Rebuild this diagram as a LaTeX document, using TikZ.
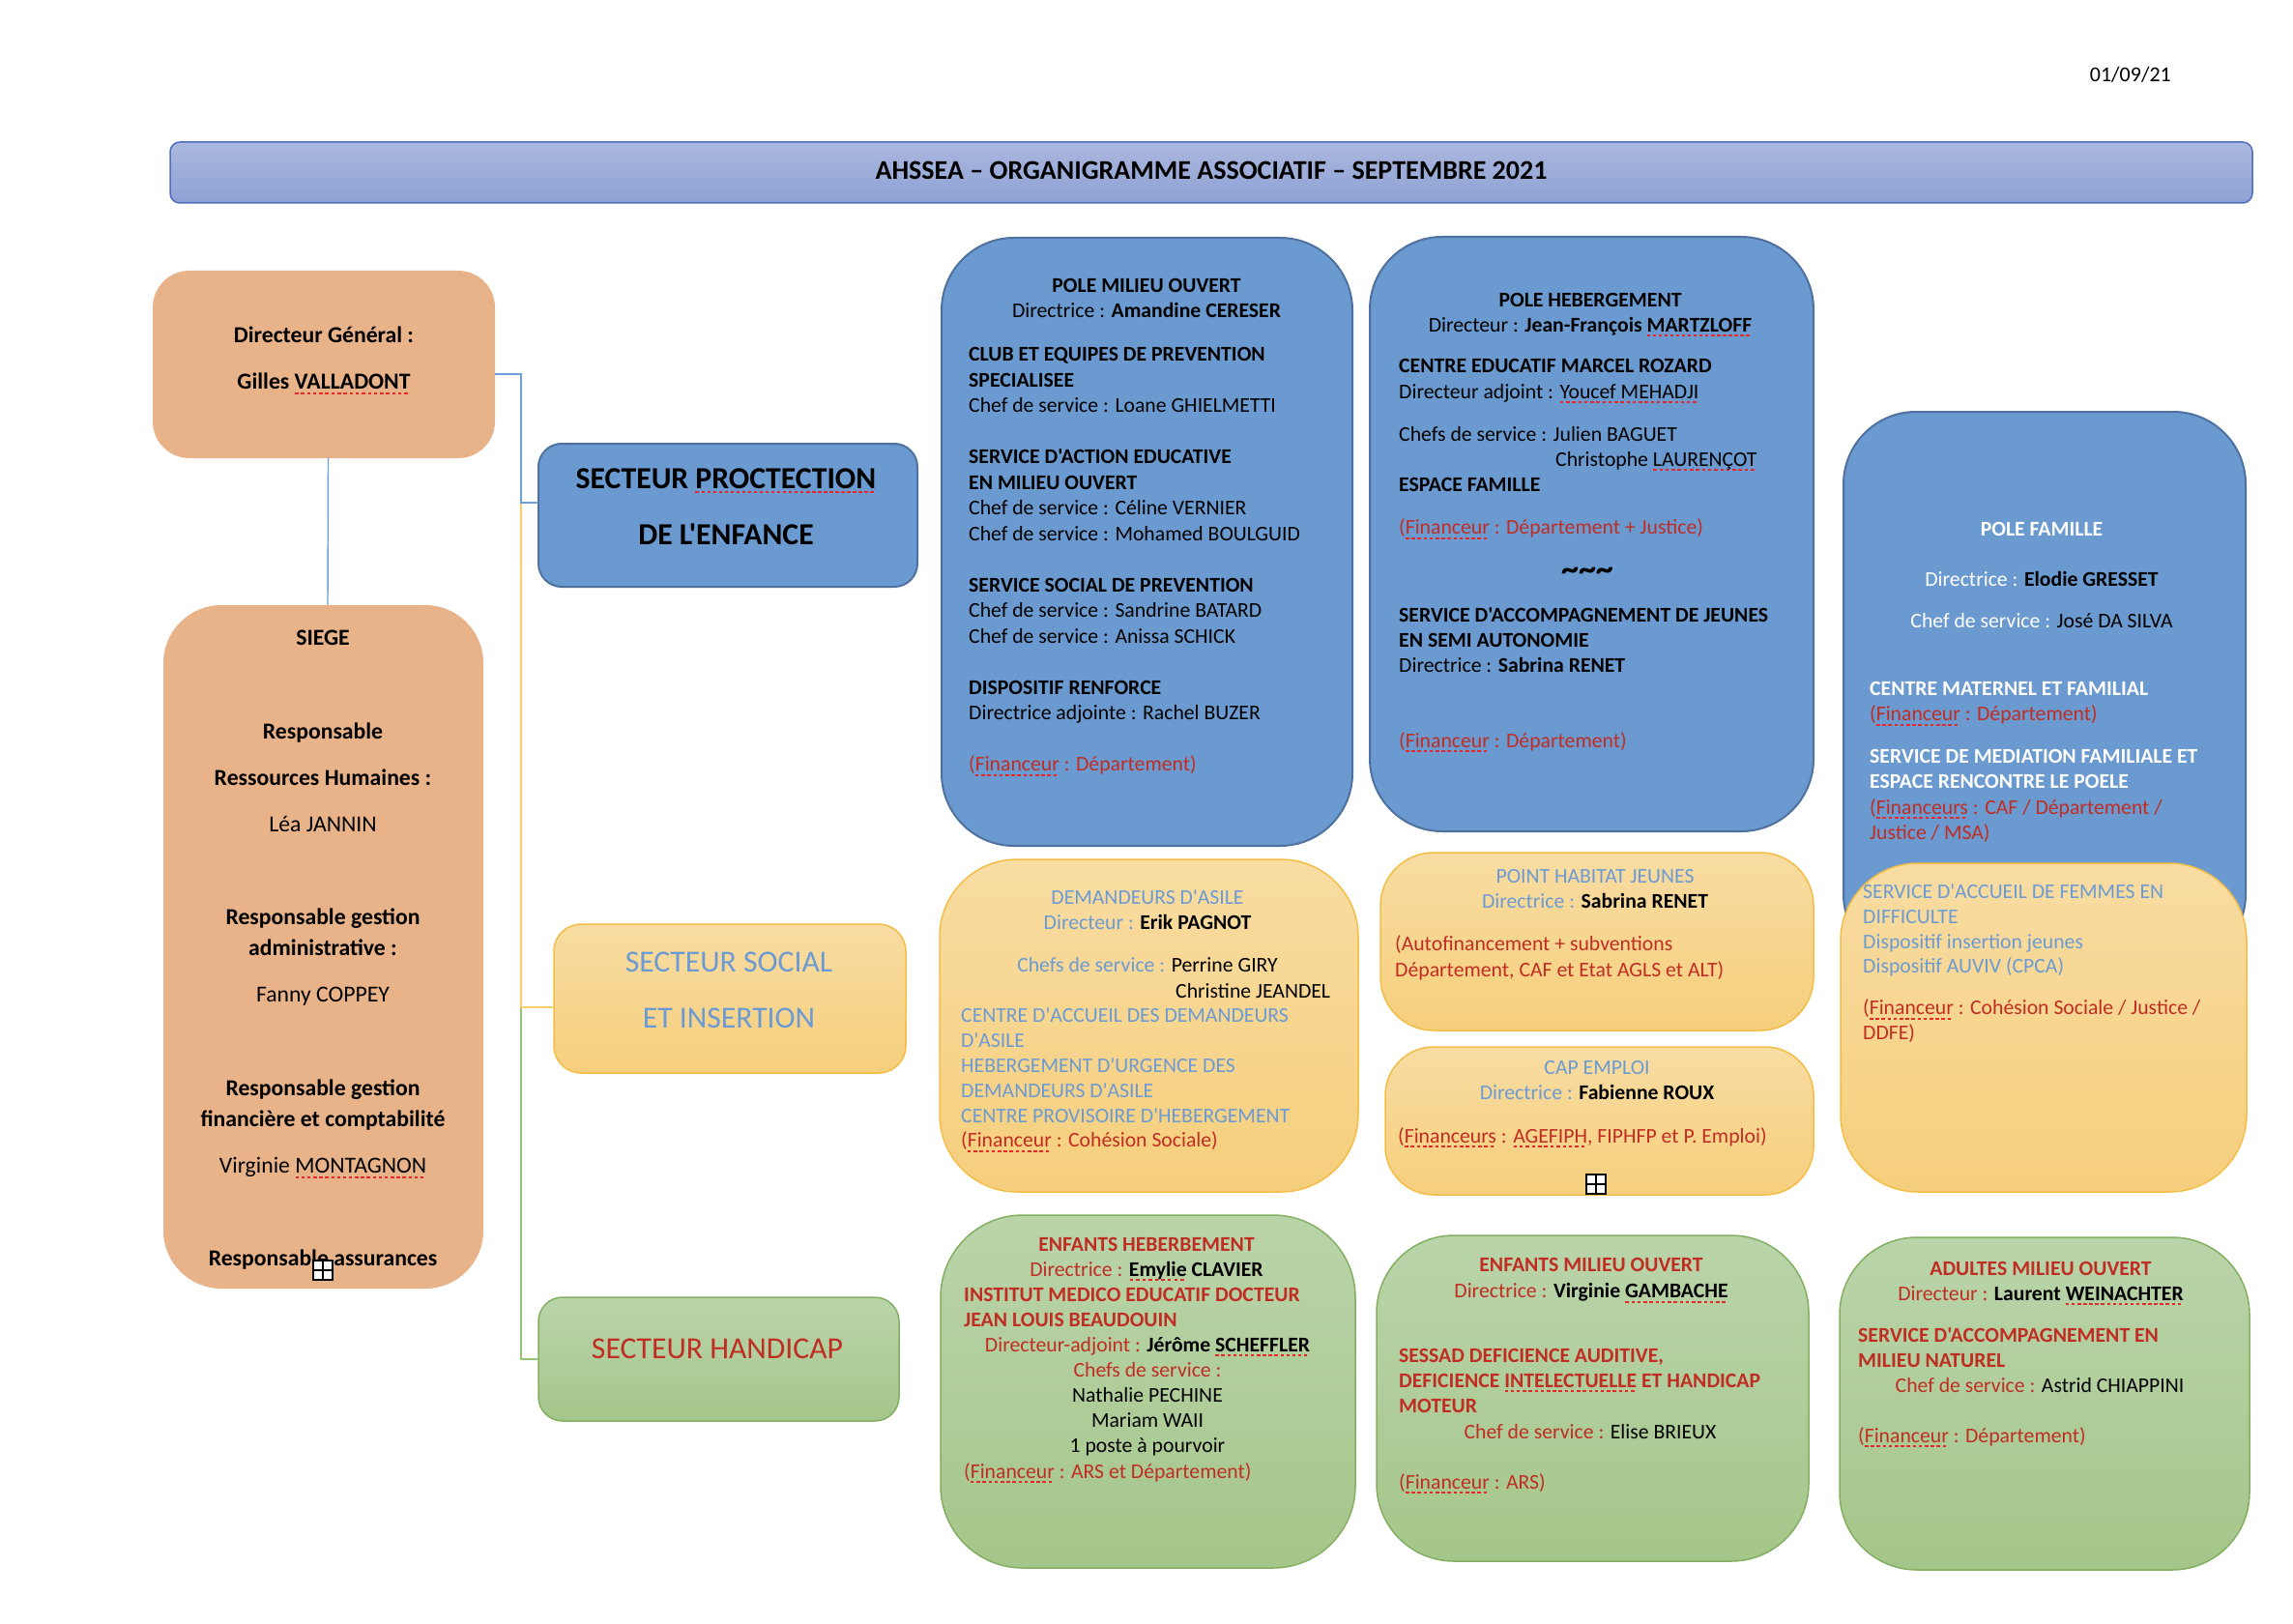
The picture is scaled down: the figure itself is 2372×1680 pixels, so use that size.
\documentclass[tikz,border=0pt]{standalone}
\usepackage{fontspec}
\setmainfont{Carlito}[Ligatures=TeXOff]
\definecolor{peach}{RGB}{233,179,138}
\definecolor{pblue}{RGB}{106,154,208}
\definecolor{pblueb}{RGB}{78,113,160}
\definecolor{ytop}{RGB}{248,220,162}
\definecolor{ybot}{RGB}{246,207,125}
\definecolor{ydraw}{RGB}{244,190,70}
\definecolor{gtop}{RGB}{186,212,170}
\definecolor{gbot}{RGB}{165,198,138}
\definecolor{gdraw}{RGB}{130,176,96}
\definecolor{ttop}{RGB}{172,184,222}
\definecolor{tbot}{RGB}{140,161,212}
\definecolor{tdraw}{RGB}{80,110,190}
\definecolor{tred}{RGB}{192,45,35}
\definecolor{tblue}{RGB}{108,155,212}
\definecolor{ulred}{RGB}{230,40,40}
\definecolor{cblue}{RGB}{110,160,215}
\definecolor{cyel}{RGB}{247,205,110}
\definecolor{cgreen}{RGB}{150,195,120}
\newsavebox\spbox
\newcommand\spellmark[1]{\sbox\spbox{#1}\leavevmode\rlap{\textcolor{ulred}{\xleaders\hbox{\rule[-5pt]{3.5pt}{2pt}\kern2.5pt}\hskip\wd\spbox}}\usebox\spbox}
\newcommand\bodyfont{\fontsize{21.7}{26.3}\selectfont}
\newcommand\bigfont{\fontsize{23.7}{32}\selectfont}
\newcommand\secfont{\fontsize{31.7}{58}\selectfont}
\begin{document}
\begin{tikzpicture}[x=1pt,y=-1pt,
  box/.style={rectangle, inner sep=0pt, outer sep=0pt},
  peachbox/.style={box, fill=peach, draw=none},
  bluebox/.style={box, fill=pblue, draw=pblueb, line width=2pt},
  yelbox/.style={box, top color=ytop, bottom color=ybot, draw=ydraw, line width=1.5pt},
  grnbox/.style={box, top color=gtop, bottom color=gbot, draw=gdraw, line width=1.5pt},
  titlebox/.style={box, top color=ttop, bottom color=tbot, draw=tdraw, line width=1.5pt, rounded corners=10pt},
  lpara/.style={anchor=north west, align=left, inner sep=0pt, font=\bodyfont},
  cpara/.style={anchor=north, align=center, inner sep=0pt, font=\bodyfont},
  conn/.style={line width=1.4pt},
  plusbox/.style={box, draw=black, fill=white, line width=2pt, minimum size=20pt}
]
\useasboundingbox (0,0) rectangle (2372,1680);
\fill[white] (0,0) rectangle (2372,1680);

% date and title
\node[anchor=base east, inner sep=0pt, font=\fontsize{22}{26}\selectfont] (date) at (2246,85) {01/09/21};
\node[titlebox, minimum width=2154pt, minimum height=63pt] (title) at (1253,178.5) {};
\node[anchor=base, inner sep=0pt, font=\fontsize{28}{34}\selectfont\bfseries] (ttl) at (1253,186) {AHSSEA – ORGANIGRAMME ASSOCIATIF – SEPTEMBRE 2021};

% left boxes
\node[peachbox, rounded corners=38pt, minimum width=354pt, minimum height=194pt] (dg) at (335,377) {};
\node[peachbox, rounded corners=60pt, minimum width=331pt, minimum height=707pt] (siege) at (334.5,979.5) {};
\node[bluebox, rounded corners=24pt, minimum width=392pt, minimum height=148pt] (prot) at (753,533) {};
\node[yelbox, rounded corners=28pt, minimum width=364pt, minimum height=154pt] (soc) at (755,1033) {};
\node[grnbox, rounded corners=25pt, minimum width=373pt, minimum height=128pt] (hand) at (743.5,1406) {};

% connectors
\draw[conn, cgreen] ([yshift=-10pt]dg.east) -| ([xshift=-18pt]hand.west) -- (hand.west);
\draw[conn, cyel] ([yshift=-10pt]dg.east) -| ([xshift=-34pt,yshift=-9pt]soc.west) -- ([yshift=-9pt]soc.west);
\draw[conn, cblue] ([yshift=-10pt]dg.east) -| ([xshift=-18pt,yshift=13pt]prot.west) -- ([yshift=13pt]prot.west);
\draw[conn, cblue] ([xshift=4.5pt]dg.south) -- ([xshift=4.5pt]siege.north);

% pole boxes
\node[bluebox, rounded corners=75pt, minimum width=425pt, minimum height=629pt] (pmo) at (1186.5,560.5) {};
\node[bluebox, rounded corners=75pt, minimum width=459pt, minimum height=615pt] (phe) at (1646.5,552.5) {};
\node[bluebox, rounded corners=75pt, minimum width=416pt, minimum height=574pt] (pfa) at (2115,713) {};
\node[yelbox, rounded corners=80pt, minimum width=420pt, minimum height=340pt] (pfy) at (2114,1063) {};
\node[yelbox, rounded corners=80pt, minimum width=433pt, minimum height=344pt] (dda) at (1188.5,1061) {};
\node[yelbox, rounded corners=55pt, minimum width=448pt, minimum height=184pt] (phj) at (1652,974) {};
\node[yelbox, rounded corners=50pt, minimum width=443pt, minimum height=153pt] (cap) at (1654.5,1159.5) {};
\node[grnbox, rounded corners=85pt, minimum width=429pt, minimum height=365pt] (eh) at (1187.5,1439.5) {};
\node[grnbox, rounded corners=80pt, minimum width=447pt, minimum height=337pt] (emo) at (1647.5,1446.5) {};
\node[grnbox, rounded corners=80pt, minimum width=424pt, minimum height=344pt] (amo) at (2115,1452) {};

% Directeur general text
\node[anchor=north, align=center, inner sep=0pt, font=\bigfont] (dgt) at (335,332.2)
 {\strut\textbf{Directeur Général :}\\[16pt]\textbf{Gilles \spellmark{VALLADONT}}};

% Siege text
\node[anchor=north, align=center, inner sep=0pt, font=\bigfont] (siegt) at (334,645.2)
 {\strut\textbf{SIEGE}\\[65pt]
  \textbf{Responsable}\\[16pt]
  \textbf{Ressources Humaines :}\\[16pt]
  Léa JANNIN\\[64pt]
  \textbf{Responsable gestion}\\
  \textbf{administrative :}\\[16pt]
  Fanny COPPEY\\[65pt]
  \textbf{Responsable gestion}\\
  \textbf{financière et comptabilité}\\[16pt]
  Virginie \spellmark{MONTAGNON}\\[64pt]
  \textbf{Responsable assurances}};
\node[plusbox] (pl1) at (334,1314) {};
\draw[line width=2pt] (pl1.north) -- (pl1.south) (pl1.west) -- (pl1.east);

% Secteur texts
\node[anchor=north, align=center, inner sep=0pt, font=\secfont] (prott) at (751,464.6)
 {\strut\textbf{SECTEUR \spellmark{PROCTECTION}}\\\textbf{DE L'ENFANCE}};
\node[anchor=north, align=center, inner sep=0pt, font=\secfont, text=tblue] (soct) at (754,964.6)
 {\strut SECTEUR SOCIAL\\ET INSERTION};
\node[anchor=north, align=center, inner sep=0pt, font=\secfont, text=tred] (handt) at (742,1364.6)
 {\strut SECTEUR HANDICAP};

% Pole milieu ouvert
\node[cpara] (pmoh) at (1186,283.6)
 {\strut\textbf{POLE MILIEU OUVERT}\\Directrice : \textbf{Amandine CERESER}};
\node[lpara, font=\fontsize{21.7}{26.5}\selectfont] (pmob) at (1002,355.1)
 {\strut\textbf{CLUB ET EQUIPES DE PREVENTION}\\
  \textbf{SPECIALISEE}\\
  Chef de service : Loane GHIELMETTI\\[26.5pt]
  \textbf{SERVICE D'ACTION EDUCATIVE}\\
  \textbf{EN MILIEU OUVERT}\\
  Chef de service : Céline VERNIER\\
  Chef de service : Mohamed BOULGUID\\[26.5pt]
  \textbf{SERVICE SOCIAL DE PREVENTION}\\
  Chef de service : Sandrine BATARD\\
  Chef de service : Anissa SCHICK\\[26.5pt]
  \textbf{DISPOSITIF RENFORCE}\\
  Directrice adjointe : Rachel BUZER\\[26.5pt]
  \textcolor{tred}{(\spellmark{Financeur} : Département)}};

% Pole hebergement
\node[cpara, font=\fontsize{21.7}{26}\selectfont] (pheh) at (1645,298.6)
 {\strut\textbf{POLE HEBERGEMENT}\\Directeur : \textbf{Jean-François \spellmark{MARTZLOFF}}};
\node[lpara] (pheb) at (1447,367.1)
 {\strut\textbf{CENTRE EDUCATIF MARCEL ROZARD}\\
  Directeur adjoint : \spellmark{Youcef MEHADJI}\\[17.7pt]
  Chefs de service : Julien BAGUET\\
  \hspace*{162pt}Christophe \spellmark{LAURENÇOT}\\
  \textbf{ESPACE FAMILLE}\\[17.7pt]
  \textcolor{tred}{(\spellmark{Financeur} : Département + Justice)}};
\node[anchor=base, inner sep=0pt, font=\fontsize{36}{36}\selectfont\bfseries] (phet) at (1642,600)
 {\textasciitilde\textasciitilde\textasciitilde};
\node[lpara, font=\fontsize{21.7}{26}\selectfont] (phec) at (1447,624.6)
 {\strut\textbf{SERVICE D'ACCOMPAGNEMENT DE JEUNES}\\
  \textbf{EN SEMI AUTONOMIE}\\
  Directrice : \textbf{Sabrina RENET}\\[52pt]
  \textcolor{tred}{(\spellmark{Financeur} : Département)}};

% Pole famille
\node[cpara, text=white] (pfah) at (2112,535.6)
 {\strut\textbf{POLE FAMILLE}\\[25.7pt]
  Directrice : \textcolor{black}{\textbf{Elodie GRESSET}}\\[16.7pt]
  Chef de service : \textcolor{black}{José DA SILVA}};
\node[lpara, text=white] (pfab) at (1934,700.6)
 {\strut\textbf{CENTRE MATERNEL ET FAMILIAL}\\
  \textcolor{tred}{(\spellmark{Financeur} : Département)}\\[17.7pt]
  \textbf{SERVICE DE MEDIATION FAMILIALE ET}\\
  \textbf{ESPACE RENCONTRE LE POELE}\\
  \textcolor{tred}{(\spellmark{Financeurs} : CAF / Département /}\\
  \textcolor{tred}{Justice / MSA)}};
\node[lpara, text=tblue, font=\fontsize{21.7}{25.7}\selectfont] (pfyb) at (1927,911.6)
 {\strut SERVICE D'ACCUEIL DE FEMMES EN\\
  DIFFICULTE\\
  Dispositif insertion jeunes\\
  Dispositif AUVIV (CPCA)\\[17pt]
  \textcolor{tred}{(\spellmark{Financeur} : Cohésion Sociale / Justice /}\\
  \textcolor{tred}{DDFE)}};

% Demandeurs d'asile
\node[cpara, text=tblue] (ddah) at (1187,916.6)
 {\strut DEMANDEURS D'ASILE\\
  Directeur : \textcolor{black}{\textbf{Erik PAGNOT}}\\[18pt]
  Chefs de service : \textcolor{black}{Perrine GIRY}};
\node[lpara] (ddac) at (1216,1013.6) {\strut Christine JEANDEL};
\node[lpara, text=tblue, font=\fontsize{21.7}{25.8}\selectfont] (ddab) at (994,1039.6)
 {\strut CENTRE D'ACCUEIL DES DEMANDEURS\\
  D'ASILE\\
  HEBERGEMENT D'URGENCE DES\\
  DEMANDEURS D'ASILE\\
  CENTRE PROVISOIRE D'HEBERGEMENT\\
  \textcolor{tred}{(\spellmark{Financeur} : Cohésion Sociale)}};

% Point habitat jeunes
\node[cpara, text=tblue, font=\fontsize{21.7}{26}\selectfont] (phjh) at (1650,894.6)
 {\strut POINT HABITAT JEUNES\\Directrice : \textcolor{black}{\textbf{Sabrina RENET}}};
\node[lpara, text=tred, font=\fontsize{21.7}{27}\selectfont] (phjb) at (1443,964.6)
 {\strut(Autofinancement + subventions\\Département, CAF et Etat AGLS et ALT)};

% Cap emploi
\node[cpara, text=tblue, font=\fontsize{21.7}{26}\selectfont] (caph) at (1652,1092.6)
 {\strut CAP EMPLOI\\Directrice : \textcolor{black}{\textbf{Fabienne ROUX}}};
\node[lpara, text=tred] (capb) at (1446,1163.6)
 {\strut(\spellmark{Financeurs} : \spellmark{AGEFIPH}, FIPHFP et P. Emploi)};
\node[plusbox] (pl2) at (1651,1225) {};
\draw[line width=2pt] (pl2.north) -- (pl2.south) (pl2.west) -- (pl2.east);

% Enfants hebergement
\node[cpara, text=tred, font=\fontsize{21.7}{26}\selectfont] (ehh) at (1186,1275.6)
 {\strut\textbf{ENFANTS HEBERBEMENT}\\
  Directrice : \textcolor{black}{\textbf{\spellmark{Emylie} CLAVIER}}};
\node[lpara, text=tred, font=\fontsize{21.7}{26}\selectfont] (ehi) at (997,1327.6)
 {\strut\textbf{INSTITUT MEDICO EDUCATIF DOCTEUR}\\\textbf{JEAN LOUIS BEAUDOUIN}};
\node[cpara, text=tred, font=\fontsize{21.7}{26}\selectfont] (ehc) at (1187,1379.6)
 {\strut Directeur-adjoint : \textcolor{black}{\textbf{Jérôme \spellmark{SCHEFFLER}}}\\
  Chefs de service :\\
  \textcolor{black}{Nathalie PECHINE}\\
  \textcolor{black}{Mariam WAII}\\
  \textcolor{black}{1 poste à pourvoir}};
\node[lpara, text=tred] (ehf) at (997,1510.6)
 {\strut(\spellmark{Financeur} : ARS et Département)};

% Enfants milieu ouvert
\node[cpara, text=tred, font=\fontsize{21.7}{27}\selectfont] (emoh) at (1646,1296.6)
 {\strut\textbf{ENFANTS MILIEU OUVERT}\\
  Directrice : \textcolor{black}{\textbf{Virginie \spellmark{GAMBACHE}}}};
\node[lpara, text=tred, font=\fontsize{21.7}{26}\selectfont] (emos) at (1447,1390.6)
 {\strut\textbf{SESSAD DEFICIENCE AUDITIVE,}\\
  \textbf{DEFICIENCE \spellmark{INTELECTUELLE} ET HANDICAP}\\
  \textbf{MOTEUR}};
\node[cpara, text=tred] (emoc) at (1645,1469.6)
 {\strut Chef de service : \textcolor{black}{Elise BRIEUX}};
\node[lpara, text=tred] (emof) at (1447,1521.6)
 {\strut(\spellmark{Financeur} : ARS)};

% Adultes milieu ouvert
\node[cpara, text=tred, font=\fontsize{21.7}{26}\selectfont] (amoh) at (2111,1300.6)
 {\strut\textbf{ADULTES MILIEU OUVERT}\\
  Directeur : \textcolor{black}{\textbf{Laurent \spellmark{WEINACHTER}}}};
\node[lpara, text=tred, font=\fontsize{21.7}{26}\selectfont] (amos) at (1922,1369.6)
 {\strut\textbf{SERVICE D'ACCOMPAGNEMENT EN}\\\textbf{MILIEU NATUREL}};
\node[cpara, text=tred] (amoc) at (2110,1421.6)
 {\strut Chef de service : \textcolor{black}{Astrid CHIAPPINI}};
\node[lpara, text=tred] (amof) at (1922,1473.6)
 {\strut(\spellmark{Financeur} : Département)};
\end{tikzpicture}
\end{document}
